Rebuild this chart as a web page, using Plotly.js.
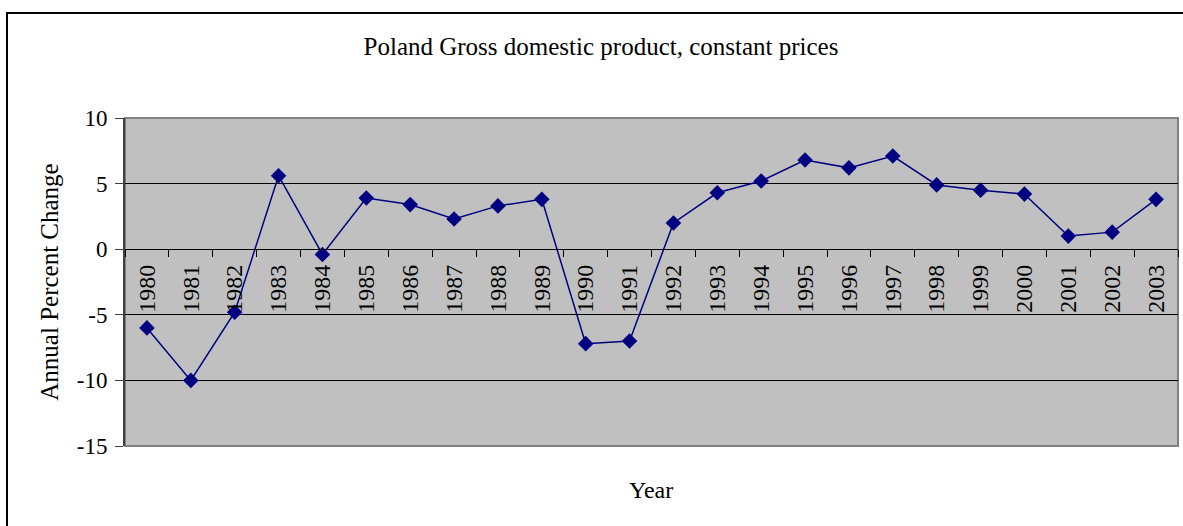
<!DOCTYPE html>
<html>
<head>
<meta charset="utf-8">
<script src="https://cdn.plot.ly/plotly-3.0.1.min.js"></script>
<style>
html,body{margin:0;padding:0;background:#fff;}
#chart{width:1183px;height:526px;}
</style>
</head>
<body>
<div id="chart"></div>
<script>
const years = ["1980","1981","1982","1983","1984","1985","1986","1987","1988","1989","1990","1991",
               "1992","1993","1994","1995","1996","1997","1998","1999","2000","2001","2002","2003"];
const gdpChange = [-6.0,-10.0,-4.8,5.6,-0.4,3.9,3.4,2.3,3.3,3.8,-7.2,-7.0,
                   2.0,4.3,5.2,6.8,6.2,7.1,4.9,4.5,4.2,1.0,1.3,3.8];
const yTicks = [-15,-10,-5,0,5,10];

const serif = "'Liberation Serif','Times New Roman',serif";

const trace = {
  type: 'scatter',
  mode: 'lines+markers',
  x: years,
  y: gdpChange,
  line: {color: '#000080', width: 1.5},
  marker: {symbol: 'diamond', size: 12, color: '#000080'},
  cliponaxis: false,
  hoverinfo: 'x+y'
};

const layout = {
  width: 1183,
  height: 526,
  margin: {l: 125, r: 5, t: 118, b: 80},
  paper_bgcolor: '#ffffff',
  plot_bgcolor: '#c0c0c0',
  showlegend: false,
  font: {family: serif, color: '#000', size: 22},
  title: {
    text: 'Poland Gross domestic product, constant prices',
    font: {family: serif, size: 25, color: '#000'},
    x: 601/1183, xref: 'container', xanchor: 'center',
    y: 1 - 46/526, yref: 'container', yanchor: 'middle'
  },
  xaxis: {
    type: 'category',
    anchor: 'free',
    position: 0.6,
    showline: true, linecolor: '#000', linewidth: 1,
    ticks: 'outside', tickson: 'boundaries', ticklen: 7, tickcolor: '#000', tickwidth: 1,
    tickangle: -90,
    ticklabelstandoff: 5,
    tickfont: {family: serif, size: 24, color: '#000'},
    showgrid: false, zeroline: false,
    range: [-0.5, years.length - 0.5],
    fixedrange: true
  },
  yaxis: {
    range: [-15, 10],
    tickvals: yTicks,
    ticktext: yTicks.map(String),
    showline: true, linecolor: '#404040', linewidth: 2,
    ticks: 'outside', ticklen: 8, tickcolor: '#404040', tickwidth: 1,
    ticklabelstandoff: 3,
    tickfont: {family: serif, size: 23, color: '#000'},
    showgrid: true, gridcolor: '#000', gridwidth: 1,
    zeroline: false,
    title: {text: 'Annual Percent Change', font: {family: serif, size: 25, color: '#000'}, standoff: 11},
    automargin: false,
    fixedrange: true
  },
  shapes: [
    {type: 'rect', xref: 'paper', yref: 'paper', x0: 0, x1: 1, y0: 0, y1: 1,
     line: {color: '#808080', width: 2}, fillcolor: 'rgba(0,0,0,0)', layer: 'below'},
    {type: 'path', xref: 'paper', yref: 'paper',
     path: 'M ' + ((7-125)/1053) + ' ' + ((446-540)/328) + ' L ' + ((7-125)/1053) + ' ' + ((446-13)/328) + ' L ' + ((1200-125)/1053) + ' ' + ((446-13)/328),
     line: {color: '#000', width: 2}, layer: 'above'}
  ],
  annotations: [
    {text: 'Year', xref: 'paper', yref: 'paper', x: (651-125)/1053, y: (446-490)/328,
     xanchor: 'center', yanchor: 'middle', showarrow: false,
     font: {family: serif, size: 24, color: '#000'}}
  ]
};

Plotly.newPlot('chart', [trace], layout, {staticPlot: true, displayModeBar: false});
</script>
</body>
</html>
